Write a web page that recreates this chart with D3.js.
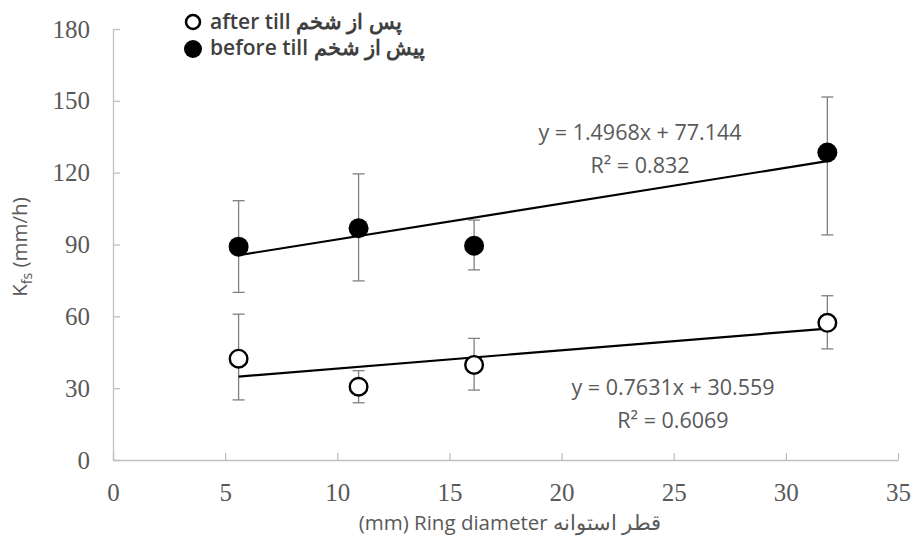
<!DOCTYPE html>
<html><head><meta charset="utf-8">
<script src="https://cdn.jsdelivr.net/npm/d3@7"></script>
<style>body{margin:0;background:#fff}svg{display:block}</style>
</head><body><svg id="c" width="913" height="541"></svg>
<script>
const xTicks = [0,5,10,15,20,25,30,35];
const yTicks = [0,30,60,90,120,150,180];
const diameters = [5.6, 10.95, 16.1, 31.85];
const beforeMean = [89.1, 96.8, 89.5, 128.4];
const beforeHi = [108.3, 119.5, 100.2, 151.6];
const beforeLo = [70, 74.8, 79.4, 94];
const afterMean = [42.3, 30.6, 39.7, 57.3];
const afterHi = [60.9, 37.3, 50.8, 68.6];
const afterLo = [25.1, 23.9, 29.2, 46.4];
const fitBefore = [1.4968, 77.144];
const fitAfter = [0.7631, 30.559];
const eqBefore = ["y = 1.4968x + 77.144", "R² = 0.832"];
const eqAfter = ["y = 0.7631x + 30.559", "R² = 0.6069"];
const legendLabels = ["after till پس از شخم", "before till پیش از شخم"];

const svg = d3.select("#c");
const x = d3.scaleLinear().domain([0,35]).range([113,898]);
const y = d3.scaleLinear().domain([0,180]).range([460,29]);
const axisColor = "#c0c0c0", textColor = "#595959";

const gx = svg.append("g").attr("transform","translate(0,460)")
  .call(d3.axisBottom(x).tickValues(xTicks).tickSizeInner(-7).tickSizeOuter(0));
gx.select(".domain").attr("stroke",axisColor).attr("stroke-width",1.3);
gx.selectAll(".tick line").attr("stroke",axisColor).attr("stroke-width",1.3);
gx.selectAll(".tick text").attr("fill",textColor).attr("font-family","Liberation Serif")
  .attr("font-size",25).attr("y",23).attr("dy","0.71em");

const gy = svg.append("g").attr("transform","translate(113,0)")
  .call(d3.axisLeft(y).tickValues(yTicks).tickSizeInner(-7).tickSizeOuter(0));
gy.select(".domain").attr("stroke",axisColor).attr("stroke-width",1.3);
gy.selectAll(".tick line").attr("stroke",axisColor).attr("stroke-width",1.3);
gy.selectAll(".tick text").attr("fill",textColor).attr("font-family","Liberation Serif")
  .attr("font-size",25).attr("x",-23).attr("dy","0.32em");

// axis titles
const yt = svg.append("text").attr("transform","translate(27,247) rotate(-90)")
  .attr("text-anchor","middle").attr("fill",textColor).attr("font-family","Open Sans").attr("font-size",20.5);
yt.append("tspan").text("K");
yt.append("tspan").text("fs").attr("font-size",14).attr("dy",5);
yt.append("tspan").text(" (mm/h)").attr("dy",-5);

svg.append("text").attr("x",510).attr("y",530).attr("text-anchor","middle")
  .attr("fill",textColor).attr("font-family","Open Sans").attr("font-size",20.5)
  .attr("direction","ltr").text("(mm) Ring diameter قطر استوانه");

function errorBars(lo, hi) {
  const g = svg.append("g").attr("stroke","#808080").attr("stroke-width",1.3);
  diameters.forEach((d,i)=>{
    g.append("line").attr("x1",x(d)).attr("x2",x(d)).attr("y1",y(lo[i])).attr("y2",y(hi[i]));
    g.append("line").attr("x1",x(d)-6).attr("x2",x(d)+6).attr("y1",y(lo[i])).attr("y2",y(lo[i]));
    g.append("line").attr("x1",x(d)-6).attr("x2",x(d)+6).attr("y1",y(hi[i])).attr("y2",y(hi[i]));
  });
}
errorBars(beforeLo, beforeHi);
errorBars(afterLo, afterHi);

function fitLine(f){
  const x0 = diameters[0], x1 = diameters[diameters.length-1];
  svg.append("line").attr("x1",x(x0)).attr("x2",x(x1))
    .attr("y1",y(f[0]*x0+f[1])).attr("y2",y(f[0]*x1+f[1]))
    .attr("stroke","#000").attr("stroke-width",2.2);
}
fitLine(fitBefore);
fitLine(fitAfter);

svg.append("g").selectAll("circle").data(diameters).join("circle")
  .attr("cx",d=>x(d)).attr("cy",(d,i)=>y(afterMean[i])).attr("r",8.8)
  .attr("fill","#fff").attr("stroke","#000").attr("stroke-width",2.4);
svg.append("g").selectAll("circle").data(diameters).join("circle")
  .attr("cx",d=>x(d)).attr("cy",(d,i)=>y(beforeMean[i])).attr("r",10)
  .attr("fill","#000");

function eq(lines, cx, cy){
  lines.forEach((t,i)=>svg.append("text").attr("x",cx).attr("y",cy+i*33)
    .attr("text-anchor","middle").attr("fill",textColor).attr("font-family","Open Sans")
    .attr("font-size",21.5).text(t));
}
eq(eqBefore, 640, 140);
eq(eqAfter, 673, 395);

// legend
const lg = svg.append("g");
lg.append("circle").attr("cx",193).attr("cy",22).attr("r",7).attr("fill","#fff").attr("stroke","#000").attr("stroke-width",2.6);
lg.append("circle").attr("cx",193).attr("cy",49).attr("r",9).attr("fill","#000");
legendLabels.forEach((t,i)=>lg.append("text").attr("x",210).attr("y",29+i*26)
  .attr("fill","#404040").attr("font-family","Open Sans").attr("font-weight",600)
  .attr("font-size",21).attr("direction","ltr").text(t));
</script></body></html>
